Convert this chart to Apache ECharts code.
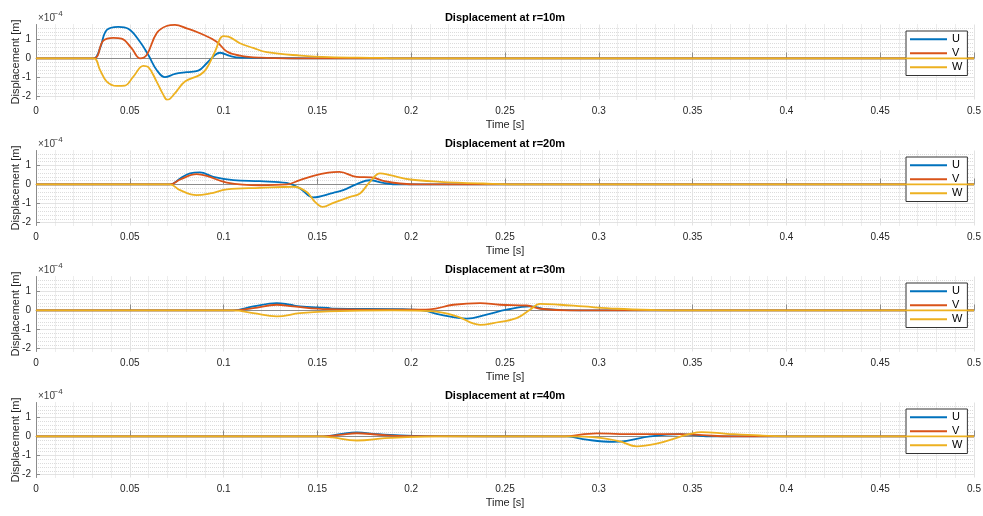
<!DOCTYPE html>
<html>
<head>
<meta charset="utf-8">
<script src="https://cdn.jsdelivr.net/npm/echarts@6/dist/echarts.min.js"></script>
<style>
html, body { margin: 0; padding: 0; background: #fff; }
#main { width: 983px; height: 516px; }
</style>
</head>
<body>
<div id="main"></div>
<script>
var distances = ['10', '20', '30', '40'];
var seriesNames = ['U', 'V', 'W'];
var colors = ['#0072BD', '#D95319', '#EDB120'];

// displacement in units of 1e-4 m, pairs of [time s, value]
var r10U = [[0,0],[0.0306,0],[0.0341,0.53],[0.0377,1.49],[0.0439,1.66],[0.0492,1.56],[0.0554,0.88],[0.0599,0.18],[0.0643,-0.60],[0.0687,-0.98],[0.0741,-0.81],[0.0803,-0.72],[0.0865,-0.64],[0.0910,-0.25],[0.0954,0.18],[0.0981,0.30],[0.1034,0.13],[0.1087,0.04],[0.13,0.02],[0.15,0],[0.5,0]];
var r10V = [[0,0],[0.0306,0],[0.0359,0.93],[0.0412,1.08],[0.0456,1.04],[0.0510,0.53],[0.0554,0.01],[0.0590,0.18],[0.0643,1.32],[0.0696,1.70],[0.0741,1.76],[0.0803,1.58],[0.0874,1.32],[0.0963,0.88],[0.1017,0.36],[0.1087,0.15],[0.1194,0.04],[0.135,0],[0.5,0]];
var r10W = [[0,0],[0.0306,0],[0.0341,-0.60],[0.0377,-1.21],[0.0430,-1.44],[0.0474,-1.42],[0.0519,-0.95],[0.0572,-0.39],[0.0599,-0.46],[0.0643,-1.21],[0.0679,-1.91],[0.0700,-2.17],[0.0741,-1.82],[0.0794,-1.21],[0.0874,-0.86],[0.0910,-0.51],[0.0954,0.36],[0.0998,1.17],[0.1025,1.14],[0.1087,0.80],[0.1158,0.55],[0.123,0.33],[0.141,0.15],[0.156,0.07],[0.184,0.03],[0.19,0],[0.5,0]];

var r20U = [[0,0],[0.0714,0],[0.0768,0.31],[0.0821,0.58],[0.0874,0.63],[0.0945,0.40],[0.1052,0.23],[0.1194,0.17],[0.1336,0.08],[0.1407,-0.21],[0.1478,-0.68],[0.1585,-0.44],[0.1638,-0.30],[0.171,0.02],[0.178,0.22],[0.1851,0.08],[0.194,0],[0.5,0]];
var r20V = [[0,0],[0.0714,0],[0.0768,0.26],[0.0856,0.54],[0.0910,0.45],[0.1017,0.10],[0.1194,-0.04],[0.1336,0],[0.1407,0.23],[0.1478,0.45],[0.1558,0.62],[0.1617,0.66],[0.1709,0.40],[0.1789,0.37],[0.1851,0.19],[0.194,0.05],[0.205,0],[0.5,0]];
var r20W = [[0,0],[0.0714,0],[0.0768,-0.30],[0.0856,-0.56],[0.0928,-0.47],[0.1017,-0.26],[0.1194,-0.18],[0.1372,-0.12],[0.1443,-0.39],[0.1487,-0.91],[0.1528,-1.17],[0.1585,-0.96],[0.1674,-0.65],[0.1727,-0.47],[0.178,0.14],[0.1834,0.58],[0.1887,0.49],[0.1994,0.26],[0.2154,0.14],[0.2383,0.05],[0.26,0],[0.5,0]];

var r30U = [[0,0],[0.105,0],[0.1158,0.21],[0.1283,0.39],[0.1354,0.30],[0.1407,0.21],[0.1557,0.13],[0.1585,0.09],[0.194,0.07],[0.2063,0],[0.2154,-0.22],[0.2296,-0.43],[0.2402,-0.22],[0.2509,0.04],[0.2633,0.21],[0.2722,0.07],[0.29,0],[0.5,0]];
var r30V = [[0,0],[0.105,0],[0.1158,0.12],[0.1283,0.30],[0.1372,0.21],[0.1557,0.07],[0.2,0.04],[0.2100,0.06],[0.2225,0.30],[0.2367,0.39],[0.2473,0.30],[0.2616,0.26],[0.2687,0.09],[0.285,0],[0.5,0]];
var r30W = [[0,0],[0.105,0],[0.1158,-0.14],[0.1283,-0.31],[0.1407,-0.14],[0.1557,-0.05],[0.19,0],[0.2120,-0.05],[0.2243,-0.31],[0.2367,-0.75],[0.2438,-0.66],[0.2562,-0.40],[0.2633,0.04],[0.2687,0.35],[0.2793,0.30],[0.2917,0.21],[0.3095,0.09],[0.33,0.02],[0.345,0],[0.5,0]];

var r40U = [[0,0],[0.153,0],[0.162,0.12],[0.171,0.21],[0.1816,0.12],[0.194,0.05],[0.21,0.02],[0.283,0],[0.2935,-0.17],[0.3077,-0.28],[0.3149,-0.23],[0.3273,0],[0.3433,0.12],[0.3504,0.07],[0.36,0],[0.5,0]];
var r40V = [[0,0],[0.153,0],[0.162,0.08],[0.171,0.17],[0.183,0.09],[0.197,0.02],[0.28,0],[0.2988,0.16],[0.3184,0.12],[0.3362,0.12],[0.3433,0.12],[0.355,0.07],[0.37,0],[0.5,0]];
var r40W = [[0,0],[0.153,0],[0.158,-0.05],[0.171,-0.21],[0.186,-0.09],[0.198,-0.03],[0.215,0],[0.283,0],[0.3006,-0.07],[0.3113,-0.26],[0.3202,-0.52],[0.3308,-0.38],[0.3415,-0.07],[0.3486,0.14],[0.3548,0.23],[0.3682,0.14],[0.3859,0.05],[0.41,0],[0.5,0]];

var allData = [[r10U, r10V, r10W], [r20U, r20V, r20W], [r30U, r30V, r30W], [r40U, r40V, r40W]];

var myChart = echarts.init(document.getElementById('main'));
var font = 'Liberation Sans, Arial, sans-serif';
var txt = '#262626';
var axisGray = '#8c8c8c';
var gridTops = [24.5, 150.5, 276.5, 402.5];

var option = {
    animation: false,
    backgroundColor: '#fff',
    textStyle: {fontFamily: font},
    title: [], grid: [], xAxis: [], yAxis: [], legend: [], series: [], graphic: []
};

for (var i = 0; i < 4; i++) {
    var gTop = gridTops[i];
    option.grid.push({left: 36, width: 938, top: gTop, height: 75, containLabel: false, outerBoundsMode: 'none'});
    option.title.push({
        text: 'Displacement at r=' + distances[i] + 'm',
        left: 505, top: gTop - 12, textAlign: 'center', padding: 0,
        textStyle: {fontSize: 11, fontWeight: 'bold', color: '#000', fontFamily: font}
    });
    option.xAxis.push({
        gridIndex: i, type: 'value', min: 0, max: 0.5, interval: 0.05,
        name: 'Time [s]', nameLocation: 'middle', nameGap: 20, nameMoveOverlap: false,
        nameTextStyle: {fontSize: 11, color: txt, fontFamily: font},
        axisLine: {lineStyle: {color: axisGray}},
        axisTick: {inside: true, length: 6, lineStyle: {color: axisGray}},
        axisLabel: {fontSize: 10, color: txt, margin: 7, fontFamily: font},
        splitLine: {show: true, lineStyle: {color: '#e3e3e3'}},
        minorTick: {show: false, splitNumber: 5},
        minorSplitLine: {show: true, lineStyle: {color: '#dcdcdc', type: 'dotted'}}
    });
    option.yAxis.push({
        gridIndex: i, type: 'value', min: -2.15, max: 1.78, splitNumber: 4,
        name: 'Displacement [m]', nameLocation: 'middle', nameGap: 15, nameMoveOverlap: false,
        nameTextStyle: {fontSize: 11, color: txt, fontFamily: font},
        axisLine: {show: true, lineStyle: {color: axisGray}},
        axisTick: {show: true, inside: true, length: 4, lineStyle: {color: axisGray}},
        axisLabel: {fontSize: 10, color: txt, margin: 5, showMinLabel: false, showMaxLabel: false, fontFamily: font},
        splitLine: {show: true, showMinLine: false, showMaxLine: false, lineStyle: {color: '#e3e3e3'}},
        minorTick: {show: false, splitNumber: 5},
        minorSplitLine: {show: true, lineStyle: {color: '#dcdcdc', type: 'dotted'}}
    });
    option.legend.push({
        orient: 'vertical', left: 906, top: gTop + 6.5,
        data: seriesNames, icon: 'rect', itemWidth: 37, itemHeight: 2, itemGap: 1.5,
        padding: [2, 5, 2, 4], backgroundColor: '#fff', borderColor: '#333', borderWidth: 1,
        textStyle: {fontSize: 11, color: '#000', lineHeight: 12.5, fontFamily: font}
    });
    option.graphic.push({
        type: 'text', left: 38, top: gTop - 11,
        style: {text: '\u00d710', fontSize: 10, fill: '#404040', fontFamily: font}
    });
    option.graphic.push({
        type: 'text', left: 53.5, top: gTop - 14.5,
        style: {text: '\u22124', fontSize: 8, fill: '#404040', fontFamily: font}
    });
    for (var j = 0; j < 3; j++) {
        option.series.push({
            name: seriesNames[j], type: 'line',
            xAxisIndex: i, yAxisIndex: i,
            data: allData[i][j],
            showSymbol: false, symbol: 'none',
            smooth: 0.4,
            color: colors[j],
            lineStyle: {width: 1.8, color: colors[j]},
            z: 2 + j
        });
    }
}

myChart.setOption(option);
</script>
</body>
</html>
